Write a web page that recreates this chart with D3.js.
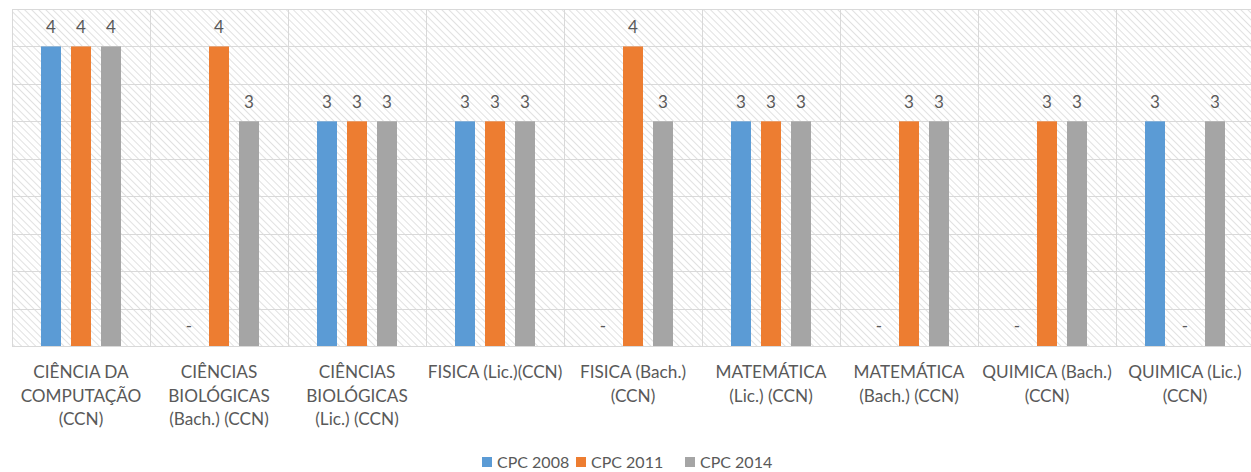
<!DOCTYPE html>
<html>
<head>
<meta charset="utf-8">
<script src="https://cdn.jsdelivr.net/npm/d3@7"></script>
<style>
  body { margin: 0; background: #fff; }
  svg { display: block; font-family: Lato, "Open Sans", sans-serif; }
</style>
</head>
<body>
<div class="chart"></div>
<script>
// data
const categories = [
    ['CIÊNCIA DA', 'COMPUTAÇÃO', '(CCN)'],
    ['CIÊNCIAS', 'BIOLÓGICAS', '(Bach.) (CCN)'],
    ['CIÊNCIAS', 'BIOLÓGICAS', '(Lic.) (CCN)'],
    ['FISICA (Lic.)(CCN)'],
    ['FISICA (Bach.)', '(CCN)'],
    ['MATEMÁTICA', '(Lic.) (CCN)'],
    ['MATEMÁTICA', '(Bach.) (CCN)'],
    ['QUIMICA (Bach.)', '(CCN)'],
    ['QUIMICA (Lic.)', '(CCN)']
];
const seriesNames = ['CPC 2008', 'CPC 2011', 'CPC 2014'];
const cpc2008 = [4, null, 3, 3, null, 3, null, null, 3];
const cpc2011 = [4, 4, 3, 3, 4, 3, 3, 3, null];
const cpc2014 = [4, 3, 3, 3, 3, 3, 3, 3, 3];
const yTicks = [0, 0.5, 1, 1.5, 2, 2.5, 3, 3.5, 4, 4.5];

const colors = ['#5b9bd5', '#ed7d31', '#a5a5a5'];
const series = [cpc2008, cpc2011, cpc2014];

const width = 1251, height = 472;
const margin = { top: 9, right: -3, bottom: 126, left: 12 };

const svg = d3.select('.chart').append('svg')
    .attr('width', width)
    .attr('height', height);

// diagonal hatch fill of the plot area
const defs = svg.append('defs');
const pat = defs.append('pattern')
    .attr('id', 'hatch')
    .attr('patternUnits', 'userSpaceOnUse')
    .attr('width', 5)
    .attr('height', 5)
    .attr('patternTransform', 'rotate(-45)');
pat.append('rect').attr('width', 5).attr('height', 5).attr('fill', '#fff');
pat.append('line')
    .attr('x1', 0).attr('y1', 0).attr('x2', 0).attr('y2', 5)
    .attr('stroke', '#d4d4d4').attr('stroke-width', 1.4);

const x0 = d3.scaleBand()
    .domain(d3.range(categories.length))
    .range([margin.left, width - margin.right])
    .padding(0);

const half = 40;
const x1 = d3.scaleBand()
    .domain(d3.range(seriesNames.length))
    .range([x0.bandwidth() / 2 - half, x0.bandwidth() / 2 + half])
    .paddingInner(1 / 3);

const y = d3.scaleLinear()
    .domain([0, 4.5])
    .range([height - margin.bottom, margin.top]);

const g = svg.append('g');

g.append('rect')
    .attr('x', margin.left)
    .attr('y', margin.top)
    .attr('width', width - margin.right - margin.left)
    .attr('height', y(0) - margin.top)
    .attr('fill', 'url(#hatch)');

// horizontal gridlines
g.selectAll('.hgrid')
    .data(yTicks)
    .enter()
    .append('line')
    .attr('x1', margin.left)
    .attr('x2', width - margin.right)
    .attr('y1', d => Math.round(y(d)) + 0.5)
    .attr('y2', d => Math.round(y(d)) + 0.5)
    .attr('stroke', '#d9d9d9')
    .attr('stroke-width', 1);

// vertical gridlines between categories
g.selectAll('.vgrid')
    .data(d3.range(categories.length + 1))
    .enter()
    .append('line')
    .attr('x1', d => Math.round(margin.left + d * x0.step()) + 0.5)
    .attr('x2', d => Math.round(margin.left + d * x0.step()) + 0.5)
    .attr('y1', margin.top)
    .attr('y2', y(0))
    .attr('stroke', '#d9d9d9')
    .attr('stroke-width', 1);

const groups = g.selectAll('.cat')
    .data(categories)
    .enter()
    .append('g')
    .attr('transform', (d, i) => `translate(${x0(i)},0)`);

groups.each(function (c, i) {
    const grp = d3.select(this);
    const vals = series.map((s, k) => ({ k: k, v: s[i] }));

    grp.selectAll('rect')
        .data(vals.filter(d => d.v != null))
        .enter()
        .append('rect')
        .attr('x', d => x1(d.k))
        .attr('width', x1.bandwidth())
        .attr('y', d => y(d.v))
        .attr('height', d => y(0) - y(d.v))
        .attr('fill', d => colors[d.k]);

    grp.selectAll('text.val')
        .data(vals)
        .enter()
        .append('text')
        .attr('class', 'val')
        .attr('x', d => x1(d.k) + x1.bandwidth() / 2)
        .attr('y', d => d.v != null ? y(d.v) - 13 : y(0) - 14)
        .attr('text-anchor', 'middle')
        .attr('font-size', 17)
        .attr('fill', '#595959')
        .text(d => d.v != null ? d.v : '-');

    grp.append('text')
        .attr('text-anchor', 'middle')
        .attr('font-size', 17.2)
        .attr('fill', '#595959')
        .selectAll('tspan')
        .data(c)
        .enter()
        .append('tspan')
        .attr('x', x0.bandwidth() / 2)
        .attr('y', (d, j) => 378 + j * 23.5)
        .text(d => d);
});

// legend
const legend = svg.append('g');
const legendX = [482, 576, 685];
seriesNames.forEach((name, k) => {
    legend.append('rect')
        .attr('x', legendX[k])
        .attr('y', 457)
        .attr('width', 10)
        .attr('height', 10)
        .attr('fill', colors[k]);
    legend.append('text')
        .attr('x', legendX[k] + 15)
        .attr('y', 468)
        .attr('font-size', 16)
        .attr('fill', '#595959')
        .text(name);
});
</script>
</body>
</html>
